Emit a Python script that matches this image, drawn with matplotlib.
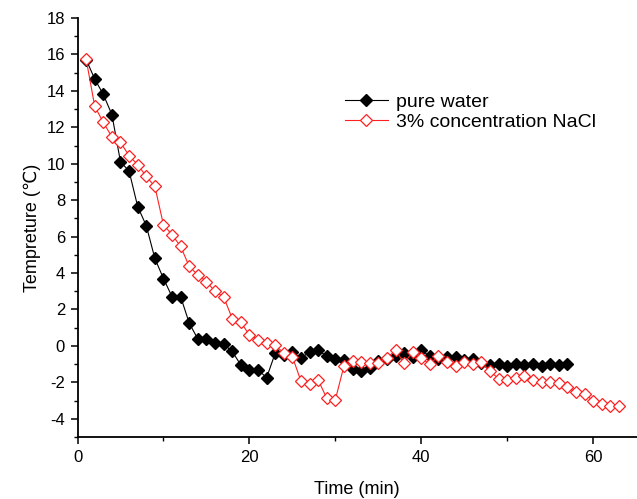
import matplotlib
matplotlib.use('Agg')
import matplotlib.pyplot as plt
from matplotlib.ticker import MultipleLocator

plt.rcParams['font.family'] = ['Liberation Sans', 'DejaVu Sans']
plt.rcParams['axes.unicode_minus'] = False

# pure water, one reading per minute
time_water = [1, 2, 3, 4, 5, 6, 7, 8, 9, 10,
              11, 12, 13, 14, 15, 16, 17, 18, 19, 20,
              21, 22, 23, 24, 25, 26, 27, 28, 29, 30,
              31, 32, 33, 34, 35, 36, 37, 38, 39, 40,
              41, 42, 43, 44, 45, 46, 47, 48, 49, 50,
              51, 52, 53, 54, 55, 56, 57]
temp_water = [15.72, 14.65, 13.8, 12.7, 10.1, 9.6, 7.65, 6.6, 4.8, 3.7,
              2.7, 2.7, 1.25, 0.38, 0.37, 0.15, 0.1, -0.3, -1.05, -1.3,
              -1.3, -1.75, -0.4, -0.5, -0.35, -0.65, -0.35, -0.25, -0.55, -0.7,
              -0.75, -1.25, -1.4, -1.2, -0.85, -0.7, -0.55, -0.4, -0.6, -0.25,
              -0.55, -0.7, -0.6, -0.6, -0.75, -0.7, -0.95, -1.05, -1.0, -1.1,
              -1.0, -1.05, -1.0, -1.1, -1.0, -1.05, -1.0]

# 3% NaCl solution
time_nacl = [1, 2, 3, 4, 5, 6, 7, 8, 9, 10,
             11, 12, 13, 14, 15, 16, 17, 18, 19, 20,
             21, 22, 23, 24, 25, 26, 27, 28, 29, 30,
             31, 32, 33, 34, 35, 36, 37, 38, 39, 40,
             41, 42, 43, 44, 45, 46, 47, 48, 49, 50,
             51, 52, 53, 54, 55, 56, 57, 58, 59, 60,
             61, 62, 63]
temp_nacl = [15.75, 13.15, 12.27, 11.47, 11.17, 10.44, 9.95, 9.3, 8.75, 6.65,
             6.1, 5.46, 4.36, 3.9, 3.53, 3.0, 2.7, 1.5, 1.3, 0.6,
             0.35, 0.17, 0.05, -0.4, -0.59, -1.93, -2.07, -1.87, -2.87, -2.95,
             -1.1, -0.8, -0.86, -0.95, -0.95, -0.68, -0.22, -0.95, -0.33, -0.68,
             -1.0, -0.55, -0.86, -1.1, -0.86, -1.0, -0.9, -1.38, -1.8, -1.87,
             -1.78, -1.65, -1.87, -2.0, -2.0, -2.05, -2.25, -2.55, -2.65, -3.0,
             -3.2, -3.28, -3.28]

fig = plt.figure(figsize=(6.37, 4.99), dpi=100)
ax = fig.add_axes([0.1217, 0.1242, 0.8783, 0.8398])

ax.plot(time_water, temp_water, color='black', lw=0.8, marker='D', ms=5.8,
        markerfacecolor='black', markeredgecolor='black', label='pure water')
ax.plot(time_nacl, temp_nacl, color='#ff2020', lw=0.8, marker='D', ms=6.0,
        markerfacecolor='white', markeredgecolor='#ff2020', markeredgewidth=0.9,
        label='3% concentration NaCl')

ax.set_xlim(0, 65.1)
ax.set_ylim(-5, 18)
ax.xaxis.set_major_locator(MultipleLocator(20))
ax.xaxis.set_minor_locator(MultipleLocator(10))
ax.yaxis.set_minor_locator(MultipleLocator(1))
ax.set_yticks([-4, -2, 0, 2, 4, 6, 8, 10, 12, 14, 16, 18])

ax.spines['top'].set_visible(False)
ax.spines['right'].set_visible(False)
ax.spines['left'].set_linewidth(1.3)
ax.spines['bottom'].set_linewidth(1.3)
ax.tick_params(which='major', direction='out', length=5, width=1.1, labelsize=12, pad=4)
ax.tick_params(which='minor', direction='out', length=3, width=1.0)

ax.set_xlabel('Time (min)', fontsize=13, labelpad=12)
ax.set_ylabel('Tempreture (\u2103)', fontsize=13, labelpad=4)

ax.legend(loc='center left', bbox_to_anchor=(0.5416, 0.7756), bbox_transform=fig.transFigure,
          frameon=False, fontsize=14, borderpad=0, borderaxespad=0,
          handlelength=2.2, handletextpad=0.4, labelspacing=0.15)

fig.savefig('out.png', dpi=100)
